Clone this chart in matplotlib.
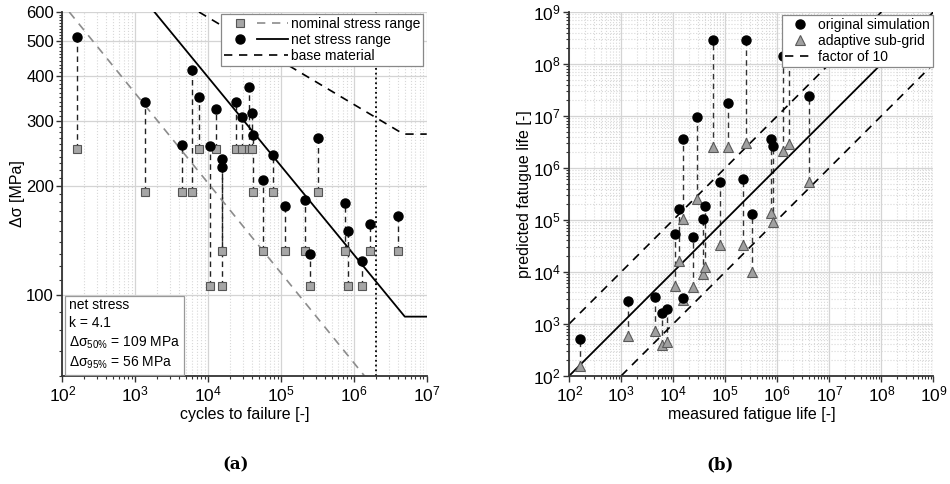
import numpy as np
import matplotlib
matplotlib.use('Agg')
import matplotlib.pyplot as plt
from matplotlib.lines import Line2D
from matplotlib.legend_handler import HandlerTuple
from matplotlib.ticker import FixedLocator, NullFormatter, LogLocator

plt.rcParams['font.family'] = ['Liberation Sans', 'DejaVu Sans']
plt.rcParams['mathtext.default'] = 'regular'

# ---- (a) S-N data: cycles, net stress range, nominal stress range
cycles = [159, 1350, 4385, 6015, 7430, 10620, 12960, 15300, 15600, 24150,
          28900, 36730, 40390, 41500, 57000, 78400, 113500, 214800, 247600,
          323600, 755000, 838000, 1.30e6, 1.65e6, 4.03e6]
net_stress = [511, 339, 258, 415, 350, 257, 325, 236, 225, 340,
              309, 373, 317, 275, 207, 242, 176, 182, 130,
              271, 179, 150, 124, 157, 165]
nominal_stress = [252, 192, 192, 192, 252, 106, 252, 132, 106, 252,
                  252, 252, 252, 192, 132, 192, 132, 132, 106,
                  192, 132, 106, 106, 132, 132]

# design curves
nominal_N = [124.6, 1.39e6]
nominal_S = [600, 60]
net_N = [1838, 5e6, 1e7]
net_S = [600, 87.2, 87.2]
base_N = [7500, 4.8e6, 1e7]
base_S = [600, 277, 277]
N_ref = 2e6

# ---- (b) predicted vs measured life
measured = [159, 1350, 4385, 6015, 7430, 10620, 12960, 15520, 15520, 24150,
            28900, 36730, 40390, 57000, 78400, 113500, 214800, 247600,
            323600, 755000, 838000, 1.30e6, 1.65e6, 4.03e6]
original = [500, 2770, 3220, 1630, 1920, 52400, 158000, 3.52e6, 3080, 47100,
            9.5e6, 103000, 183000, 2.86e8, 537000, 1.78e7, 607000, 2.86e8,
            127000, 3.52e6, 2.65e6, 1.41e8, 1.7e8, 2.39e7]
adaptive = [156, 573, 725, 385, 438, 5310, 15900, 106000, 2860, 5010,
            257000, 9040, 12500, 2.53e6, 32600, 2.53e6, 32600, 2.95e6,
            10000, 133000, 89000, 2.12e6, 2.86e6, 537000]

ident = [1e2, 1e9]
upper_x = [1e2, 1e8]
upper_y = [1e3, 1e9]
lower_x = [1e3, 1e9]
lower_y = [1e2, 1e8]

DASH = (0, (5, 4))
CONN = (0, (4, 3))
spine_c = '#333333'

fig = plt.figure(figsize=(9.5, 4.84), dpi=100)
ax1 = fig.add_axes([0.0656, 0.2238, 0.3836, 0.7514])
ax2 = fig.add_axes([0.5993, 0.2238, 0.3832, 0.7514])


def style(ax):
    ax.set_xscale('log')
    ax.set_yscale('log')
    ax.set_axisbelow(True)
    for s in ['top', 'right']:
        ax.spines[s].set_visible(False)
    for s in ['left', 'bottom']:
        ax.spines[s].set_color(spine_c)
        ax.spines[s].set_linewidth(1.3)
    ax.tick_params(which='major', direction='out', length=4, width=1,
                   color=spine_c, labelsize=12.5, pad=2)
    ax.tick_params(which='minor', direction='out', length=2.5, width=0.8,
                   color=spine_c)
    ax.grid(which='major', color='#d4d4d4', lw=0.9)


# ================= (a)
style(ax1)
ax1.xaxis.grid(which='minor', color='#d8d8d8', ls=':', lw=0.8)
for n, s_net, s_nom in zip(cycles, net_stress, nominal_stress):
    ax1.plot([n, n], [s_nom, s_net], color='#222222', ls=CONN, lw=1, zorder=2)
ax1.plot(nominal_N, nominal_S, color='#8c8c8c', ls=DASH, lw=1.2, zorder=2)
ax1.plot(net_N, net_S, color='black', lw=1.3, zorder=2)
ax1.plot(base_N, base_S, color='black', ls=DASH, lw=1.2, zorder=2)
ax1.axvline(N_ref, color='black', ls=':', lw=1.3, zorder=2)
ax1.plot(cycles, nominal_stress, 's', ms=5.5, mfc='#a6a6a6', mec='#555555',
         mew=0.8, zorder=3)
ax1.plot(cycles, net_stress, 'o', ms=6.5, color='black', zorder=4)

ax1.set_xlim(1e2, 1e7)
ax1.set_ylim(60, 600)
ax1.yaxis.set_major_locator(FixedLocator([100, 200, 300, 400, 500, 600]))
ax1.set_yticklabels(['100', '200', '300', '400', '500', '600'])
ax1.tick_params(axis='y', labelsize=12)
ax1.yaxis.set_minor_locator(FixedLocator(np.arange(60, 601, 10)))
ax1.yaxis.set_minor_formatter(NullFormatter())
ax1.set_xlabel('cycles to failure [-]', fontsize=11.5, labelpad=2)
ax1.set_ylabel('Δσ [MPa]', fontsize=11.5, labelpad=1)

h_nom = (Line2D([], [], marker='s', ls='none', ms=5.5, mfc='#a6a6a6',
                mec='#555555', mew=0.8),
         Line2D([], [], color='#8c8c8c', ls=DASH, lw=1.2))
h_net = (Line2D([], [], marker='o', ls='none', ms=6.5, color='black'),
         Line2D([], [], color='black', lw=1.3))
h_base = Line2D([], [], color='black', ls=DASH, lw=1.2)
leg1 = ax1.legend([h_nom, h_net, h_base],
                  ['nominal stress range', 'net stress range', 'base material'],
                  handler_map={tuple: HandlerTuple(ndivide=None, pad=0.1)},
                  loc='upper right', bbox_to_anchor=(0.99, 0.995),
                  borderaxespad=0, fontsize=10, handlelength=4.6,
                  handletextpad=0.2, labelspacing=0.15, borderpad=0.2,
                  fancybox=False, framealpha=1, edgecolor='#888888')
leg1.get_frame().set_linewidth(0.9)

ax1.text(0.018, 0.012,
         'net stress\nk = 4.1\nΔσ$_{50\\%}$ = 109 MPa\nΔσ$_{95\\%}$ = 56 MPa',
         transform=ax1.transAxes, ha='left', va='bottom', fontsize=10,
         linespacing=1.35, zorder=6,
         bbox=dict(boxstyle='square,pad=0.25', fc='white', ec='#999999', lw=0.9))

# ================= (b)
style(ax2)
ax2.grid(which='minor', color='#d8d8d8', ls=':', lw=0.8)
for m, o, a in zip(measured, original, adaptive):
    ax2.plot([m, m], [a, o], color='#333333', ls=CONN, lw=1, zorder=2)
ax2.plot(ident, ident, color='black', lw=1.3, zorder=2)
ax2.plot(upper_x, upper_y, color='black', ls=DASH, lw=1.2, zorder=2)
ax2.plot(lower_x, lower_y, color='black', ls=DASH, lw=1.2, zorder=2)
ax2.plot(measured, adaptive, '^', ms=7, mfc='#a0a0a0', mec='#5a5a5a',
         mew=0.8, zorder=3)
ax2.plot(measured, original, 'o', ms=6.5, color='black', zorder=4)

ax2.set_xlim(1e2, 1e9)
ax2.set_ylim(1e2, 1e9)
ax2.xaxis.set_major_locator(LogLocator(base=10, numticks=20))
ax2.yaxis.set_major_locator(LogLocator(base=10, numticks=20))
ax2.xaxis.set_minor_locator(LogLocator(base=10, subs=np.arange(2, 10), numticks=20))
ax2.yaxis.set_minor_locator(LogLocator(base=10, subs=np.arange(2, 10), numticks=20))
ax2.xaxis.set_minor_formatter(NullFormatter())
ax2.yaxis.set_minor_formatter(NullFormatter())
ax2.set_xlabel('measured fatigue life [-]', fontsize=11.5, labelpad=2)
ax2.set_ylabel('predicted fatugue life [-]', fontsize=11.5, labelpad=1)

h_orig = Line2D([], [], marker='o', ls='none', ms=6.5, color='black')
h_adap = Line2D([], [], marker='^', ls='none', ms=7, mfc='#a0a0a0',
                mec='#5a5a5a', mew=0.8)
h_fac = Line2D([], [], color='black', ls=DASH, lw=1.2)
leg2 = ax2.legend([h_orig, h_adap, h_fac],
                  ['original simulation', 'adaptive sub-grid', 'factor of 10'],
                  loc='upper right', bbox_to_anchor=(0.998, 0.992),
                  borderaxespad=0, fontsize=10, handlelength=2.2,
                  handletextpad=0.2, labelspacing=0.15, borderpad=0.2,
                  fancybox=False, framealpha=1, edgecolor='#888888')
leg2.get_frame().set_linewidth(0.9)

fig.text(0.2484, 0.039, '(a)', ha='center', va='center', fontsize=12,
         fontweight='bold', family='DejaVu Serif')
fig.text(0.758, 0.039, '(b)', ha='center', va='center', fontsize=12,
         fontweight='bold', family='DejaVu Serif')

fig.savefig('out.png', dpi=100)
